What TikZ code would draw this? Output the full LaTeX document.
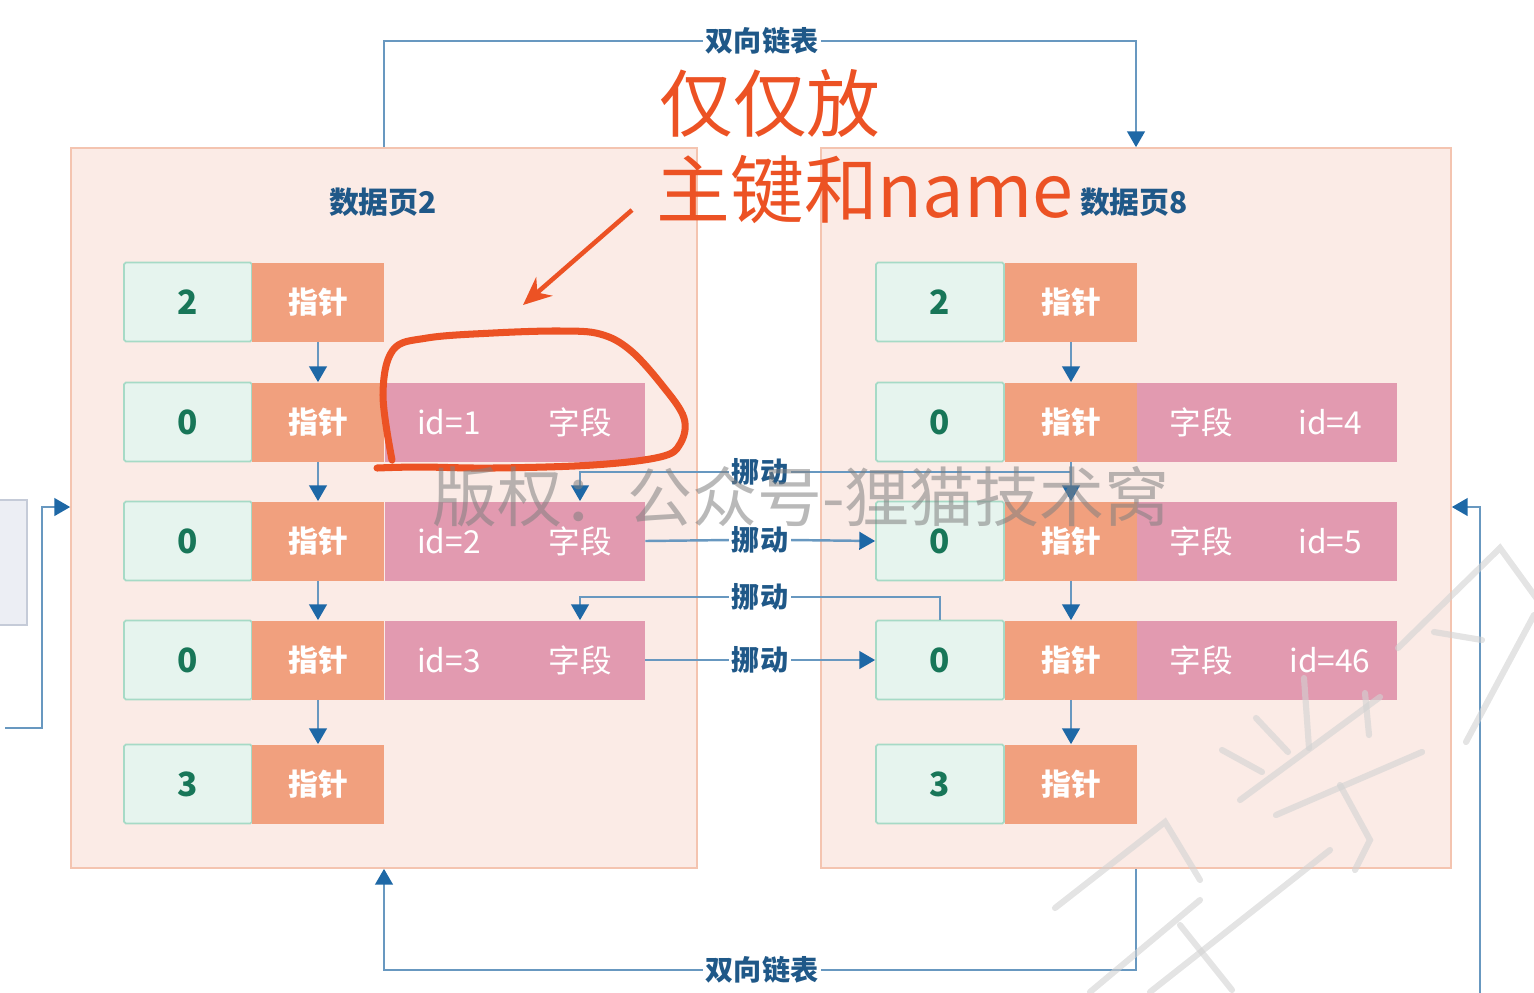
\documentclass[tikz,border=0pt]{standalone}
\usepackage{fontspec}
\setmainfont{Noto Sans CJK SC}
\usetikzlibrary{arrows.meta}
\definecolor{pagebg}{RGB}{251, 235, 230}
\definecolor{pageedge}{RGB}{244, 196, 176}
\definecolor{keybg}{RGB}{230, 244, 238}
\definecolor{keyedge}{RGB}{166, 218, 198}
\definecolor{keytext}{RGB}{24, 118, 88}
\definecolor{ptrbg}{RGB}{241, 160, 126}
\definecolor{recbg}{RGB}{226, 154, 176}
\definecolor{titleblue}{RGB}{31, 88, 136}
\definecolor{lineblue}{RGB}{104, 152, 192}
\definecolor{tipblue}{RGB}{30, 104, 166}
\definecolor{markred}{RGB}{236, 82, 36}
\definecolor{sidebg}{RGB}{236, 238, 244}
\definecolor{sideedge}{RGB}{197, 203, 216}
\tikzset{
  pagebox/.style={draw=pageedge, fill=pagebg, line width=1pt, minimum height=14.4cm, inner sep=0pt},
  keycell/.style={draw=keyedge, fill=keybg, line width=1pt, rounded corners=1pt, minimum width=2.56cm, minimum height=1.58cm, text=keytext, font=\bfseries\fontsize{19}{19}\selectfont},
  ptrcell/.style={fill=ptrbg, minimum width=2.64cm, minimum height=1.58cm, text=white, font=\bfseries\fontsize{17}{17}\selectfont},
  reccell/.style={fill=recbg, minimum width=5.2cm, minimum height=1.58cm},
  rectext/.style={text=white, font=\fontsize{18}{18}\selectfont},
  pagetitle/.style={text=titleblue, font=\bfseries\fontsize{17}{17}\selectfont},
  linktag/.style={fill=white, text=titleblue, inner sep=1.5pt, font=\bfseries\fontsize{16}{16}\selectfont},
  link/.style={draw=lineblue, line width=1.4pt},
  arrowlink/.style={link, -{Triangle[width=10pt,length=9pt,color=tipblue]}},
  wmstroke/.style={draw=gray!35, line width=3.5pt, opacity=0.6, line cap=round},
}
\begin{document}
\begin{tikzpicture}[x=0.02cm, y=-0.02cm]
\useasboundingbox (0,0) rectangle (1534,992);

% the two data pages
\node[pagebox, minimum width=12.52cm] (Lpage) at (384,508) {};
\node[pagebox, minimum width=12.6cm] (Rpage) at (1136,508) {};
\node[pagetitle] (Ltitle) at (383,202) {数据页2};
\node[pagetitle] (Rtitle) at (1134,202) {数据页8};

% rows
\foreach \i/\y/\k in {1/302/2, 2/422/0, 3/541/0, 4/660/0, 5/784/3} {
  \node[keycell] (Lk\i) at (188,\y) {\k};
  \node[ptrcell] (Lp\i) at (318,\y) {指针};
  \node[keycell] (Rk\i) at (940,\y) {\k};
  \node[ptrcell] (Rp\i) at (1071,\y) {指针};
}
\foreach \i/\y/\a/\b in {2/422/1/4, 3/541/2/5, 4/660/3/46} {
  \node[reccell] (Lr\i) at (515,\y) {};
  \node[rectext] (Lid\i) at (449,\y) {id=\a};
  \node[rectext] (Lz\i) at (580,\y) {字段};
  \node[reccell, minimum width=5.22cm] (Rr\i) at (1267,\y) {};
  \node[rectext] (Rz\i) at (1201,\y) {字段};
  \node[rectext] (Rid\i) at (1330,\y) {id=\b};
}
\foreach \i/\j in {1/2, 2/3, 3/4, 4/5} {
  \draw[arrowlink] (Lp\i) -- (Lp\j);
  \draw[arrowlink] (Rp\i) -- (Rp\j);
}

% double linked list between pages
\node[linktag] (topl) at (762,41) {双向链表};
\node[linktag] (botl) at (762,970) {双向链表};
\draw[link] (Lpage.north) |- (topl.west);
\draw[arrowlink] (topl.east) -| (Rpage.north);
\draw[link] (Rpage.south) |- (botl.east);
\draw[arrowlink] (botl.west) -| (Lpage.south);

% moved records
\node[linktag] (m1) at (760,472) {挪动};
\node[linktag] (m2) at (760,540) {挪动};
\node[linktag] (m3) at (760,597) {挪动};
\node[linktag] (m4) at (760,660) {挪动};
\draw[link] (Rp2.south |- m1) -- (m1.east);
\draw[arrowlink] (m1.west) -| (Lz3 |- Lr3.north);
\draw[link] (Lr3.east) -- (m2.west);
\draw[arrowlink] (m2.east) -- (Rk3.west);
\draw[link] (Rk4.north) |- (m3.east);
\draw[arrowlink] (m3.west) -| (Lz4 |- Lr4.north);
\draw[link] (Lr4.east) -- (m4.west);
\draw[arrowlink] (m4.east) -- (Rk4.west);

% neighbours outside the picture
\draw[draw=sideedge, fill=sidebg, line width=1.2pt] (-10,500) rectangle (27,625);
\coordinate (lfar) at (5,728);
\coordinate (lbend) at (42,507);
\coordinate (rfar) at (1480,1000);
\coordinate (rbend) at (1480,507);
\draw[arrowlink] (lfar) -| (lbend) -- (lbend -| Lpage.west);
\draw[arrowlink] (rfar) -- (rbend) -- (rbend -| Rpage.east);

% red annotation
\node[text=markred, font=\fontsize{42}{42}\selectfont] (note1) at (770,103) {仅仅放};
\node[text=markred, font=\fontsize{42}{42}\selectfont] (note2) at (865,190) {主键和name};
\coordinate (nfrom) at (632,210);
\coordinate (nto) at (523,305);
\draw[markred, line width=2.6pt, -{Stealth[length=16pt,width=14pt]}] (nfrom) -- (nto);
\draw[markred, line width=4pt, line cap=round] plot[smooth, tension=0.6] coordinates {
  (392,460) (383,395) (393,350) (427,338) (493,333) (560,331) (600,334) (630,350)
  (662,385) (684,418) (680,444) (660,457) (593,465) (493,468) (420,467) (377,468)};

% watermark
\node[text=gray, opacity=0.55, font=\fontsize{37}{37}\selectfont] (wm) at (801,497) {版权：公众号-狸猫技术窝};
\draw[wmstroke] (1398,648) -- (1500,548) -- (1545,610);
\draw[wmstroke] (1466,742) -- (1534,615);
\draw[wmstroke] (1434,632) -- (1482,640);
\draw[wmstroke] (1256,718) -- (1288,752);
\draw[wmstroke] (1222,750) -- (1262,772);
\draw[wmstroke] (1304,678) -- (1309,748);
\draw[wmstroke] (1365,693) -- (1369,735);
\draw[wmstroke] (1240,800) -- (1380,697);
\draw[wmstroke] (1276,815) -- (1422,752);
\draw[wmstroke] (1340,785) -- (1370,840) -- (1355,870);
\draw[wmstroke] (1055,908) -- (1165,822) -- (1200,880);
\draw[wmstroke] (1090,992) -- (1200,900);
\draw[wmstroke] (1180,925) -- (1232,990);
\draw[wmstroke] (1150,992) -- (1330,850);
\end{tikzpicture}
\end{document}
